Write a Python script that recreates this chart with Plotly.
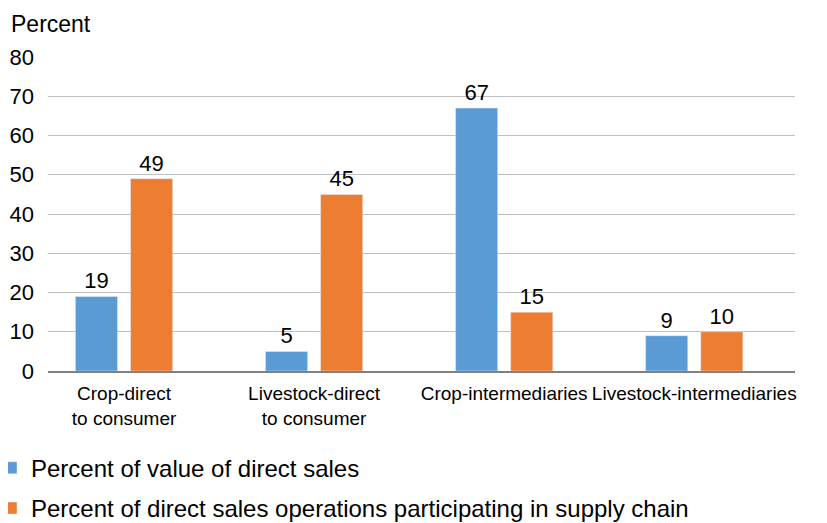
import plotly.graph_objects as go

categories = ["Crop-direct<br>to consumer", "Livestock-direct<br>to consumer",
              "Crop-intermediaries", "Livestock-intermediaries"]
value_share = [19, 5, 67, 9]
operations_share = [49, 45, 15, 10]
series_names = ["Percent of value of direct sales",
                "Percent of direct sales operations participating in supply chain"]
y_ticks = [0, 10, 20, 30, 40, 50, 60, 70, 80]

FONT = "Liberation Sans, Arial, Helvetica, sans-serif"

fig = go.Figure()
fig.add_trace(go.Bar(x=categories, y=value_share, name=series_names[0], legendgroup="a",
                     marker_color="#5B9BD5", text=value_share, textposition="outside",
                     textfont=dict(size=22, color="#000000"), cliponaxis=False))
fig.add_trace(go.Bar(x=categories, y=operations_share, name=series_names[1], legendgroup="b",
                     marker_color="#ED7D31", text=operations_share, textposition="outside",
                     textfont=dict(size=22, color="#000000"), cliponaxis=False))

fig.update_layout(
    width=827, height=523,
    margin=dict(l=40, r=40, t=49, b=160, autoexpand=False),
    paper_bgcolor="white", plot_bgcolor="white",
    font=dict(family=FONT, color="#000000"),
    barmode="group", bargap=0.42, bargroupgap=0.236,
    showlegend=True,
    legend=dict(x=-0.0763, xanchor="left", y=-0.238, yanchor="top",
                font=dict(size=24), orientation="v", traceorder="grouped",
                tracegroupgap=6, bgcolor="rgba(0,0,0,0)"),
    annotations=[dict(text="Percent", xref="paper", yref="paper", x=-0.052, y=1.152,
                      xanchor="left", yanchor="top", showarrow=False,
                      font=dict(size=23))],
)
fig.update_yaxes(range=[0, 80], tickvals=y_ticks, showgrid=True, gridcolor="#BFBFBF",
                 gridwidth=1, zeroline=False, showline=False, ticks="",
                 tickfont=dict(size=22), ticklabelstandoff=13)
fig.update_xaxes(range=[-0.4, 3.53], showline=True, linecolor="#808080", linewidth=2,
                 ticks="", tickangle=0, tickfont=dict(size=19), ticklabelstandoff=4)
fig.write_html("out.html")
